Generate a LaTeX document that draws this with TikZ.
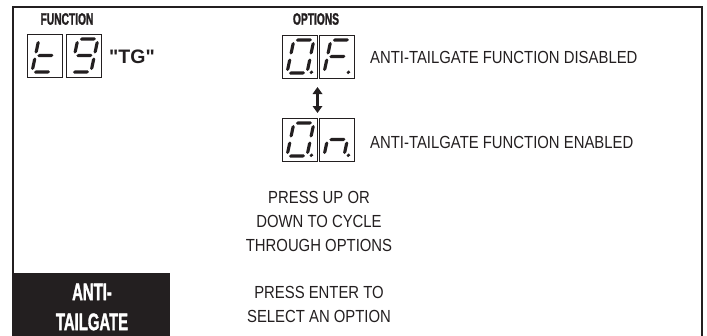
\documentclass[tikz,border=0pt]{standalone}
\usepackage{fontspec}
\setmainfont{Liberation Sans}
\newfontfamily\bodyfont[FakeStretch=0.85]{Liberation Sans}
\newfontfamily\condfont[FakeStretch=0.62,FakeBold=1.4]{Liberation Sans Bold}
\newfontfamily\tgfont[Ligatures=ResetAll]{Liberation Sans Bold}
\usetikzlibrary{arrows.meta}
\definecolor{ink}{HTML}{231F20}
% seven-segment pieces (local coords, y down)
\newcommand\hseg[3]{\fill[ink] (#1,#3) -- (#1+1.6,#3-1.6) -- (#2-1.6,#3-1.6) -- (#2,#3) -- (#2-1.6,#3+1.6) -- (#1+1.6,#3+1.6) -- cycle;}
\newcommand\vseg[3]{\fill[ink] (#1,#2) -- (#1+1.6,#2+1.6) -- (#1+1.6,#3-1.6) -- (#1,#3) -- (#1-1.6,#3-1.6) -- (#1-1.6,#2+1.6) -- cycle;}
\newcommand\segA{\hseg{2}{18}{0}}
\newcommand\segB{\vseg{20}{2}{14.5}}
\newcommand\segC{\vseg{20}{18.5}{31}}
\newcommand\segD{\hseg{2}{18}{33}}
\newcommand\segE{\vseg{0}{18.5}{31}}
\newcommand\segF{\vseg{0}{2}{14.5}}
\newcommand\segG{\hseg{2}{18}{16.5}}
\newcommand\segP{\fill[ink] (24.3,32.3) circle (1.9);}
\newcommand\segdigit[2]{\begin{scope}[shift={(#1.north west)},shift={(11.9,5)},xslant=0.21]#2\end{scope}}
\begin{document}
\begin{tikzpicture}[x=1pt,y=-1pt,
  dbox/.style={draw=ink,line width=1.2pt,minimum width=35pt,minimum height=43pt,inner sep=0pt,anchor=north west},
  body/.style={text=ink,inner sep=0pt,font=\bodyfont\fontsize{17.5}{24}\selectfont},
  head/.style={text=ink,inner sep=0pt,font=\condfont\fontsize{16.5}{18}\selectfont},
  title/.style={text=white,inner sep=0pt,align=center,font=\condfont\fontsize{24}{30}\selectfont},
  updown/.style={ink,line width=2.4pt,{Triangle[width=9.5pt,length=7pt]}-{Triangle[width=9.5pt,length=7pt]}}]
\useasboundingbox (0,0) rectangle (707,335);
% frame
\draw[ink,line width=2pt] (13,336) -- (13,7) -- (702,7) -- (702,336);
\fill[ink] (12,273) rectangle (170,336);
\node[title] (ttl) at (92,307) {ANTI-\\TAILGATE};
% headings
\node[head] (fn) at (67,19) {FUNCTION};
\node[head] (op) at (316,19) {OPTIONS};
% function display
\node[dbox] (f1) at (27,34) {};
\node[dbox] (f2) at (66,34) {};
\segdigit{f1}{\segD\segE\segF\segG}
\segdigit{f2}{\segA\segB\segC\segD\segF\segG}
\node[text=ink,inner sep=0pt,font=\tgfont\fontsize{19.5}{22}\selectfont,anchor=west] (tg) at (109,57) {"TG"};
% options display
\node[dbox] (o1) at (282,35) {};
\node[dbox] (o2) at (319,35) {};
\segdigit{o1}{\segA\segB\segC\segD\segE\segF\segP}
\segdigit{o2}{\segA\segE\segF\segG\segP}
\node[dbox] (p1) at (282,118) {};
\node[dbox] (p2) at (319,118) {};
\segdigit{p1}{\segA\segB\segC\segD\segE\segF\segP}
\segdigit{p2}{\segC\segE\segG\segP}
\coordinate (aT) at (317.5,87);
\coordinate (aB) at (317.5,113);
\draw[updown] (aT) -- (aB);
% texts
\node[body,anchor=west] (dis) at (370,57) {ANTI-TAILGATE FUNCTION DISABLED};
\node[body,anchor=west] (ena) at (370,142) {ANTI-TAILGATE FUNCTION ENABLED};
\node[body,align=center] (cyc) at (319,221) {PRESS UP OR\\DOWN TO CYCLE\\THROUGH OPTIONS};
\node[body,align=center] (ent) at (319,304) {PRESS ENTER TO\\SELECT AN OPTION};
\end{tikzpicture}
\end{document}
